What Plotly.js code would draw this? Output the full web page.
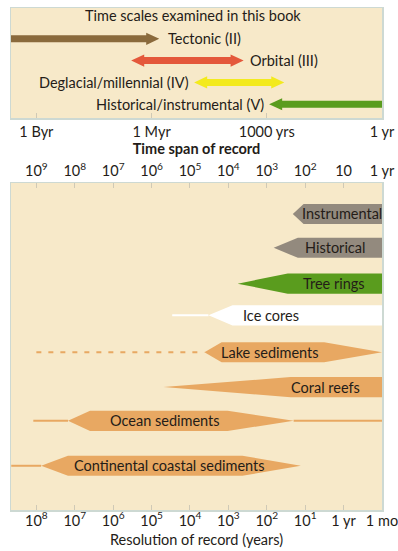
<!DOCTYPE html>
<html>
<head>
<meta charset="utf-8">
<script src="https://cdn.plot.ly/plotly-3.0.1.min.js"></script>
<style>html,body{margin:0;padding:0;background:#fff;}#chart{width:398px;height:551px;}</style>
</head>
<body>
<div id="chart"></div>
<script>
// ---------- DATA ----------
// Top panel: time scales examined in this book (time span, years)
const scaleNames = ["Tectonic (II)", "Orbital (III)", "Deglacial/millennial (IV)", "Historical/instrumental (V)"];
const scaleOld   = [5e9, 3.4e6, 7.8e4, 870];   // oldest end of arrow
const scaleYoung = [6.3e5, 4e3, 350, 1];      // youngest end of arrow
const headAtOld   = [false, true, true, true];
const headAtYoung = [true, true, true, false];

// Top-panel axis ticks
const spanTickVals = [1e9, 1e6, 1e3, 1];
const spanTickText = ["1 Byr", "1 Myr", "1000 yrs", "1 yr"];

// Bottom panel: archives (time span, years)
const records    = ["Instrumental", "Historical", "Tree rings", "Ice cores", "Lake sediments", "Coral reefs", "Ocean sediments", "Continental coastal sediments"];
const tailOld    = [null, null, null, 2.9e5, 1e9, null, 1.2e9, 4.5e9];
const tipOld     = [210, 660, 5750, 3.3e4, 4.2e4, 4.9e5, 1.5e8, 7.5e8];
const fullOld    = [110, 155, 285, 7800, 1.5e4, 240, 4e7, 1.5e8];
const fullYoung  = [1, 1, 1, 1, 32, 1, 1.05e4, 4300];
const tipYoung   = [1, 1, 1, 1, 1, 1, 200, 130];
const tailYoung  = [null, null, null, null, null, null, 1, null];

// Bottom panel tick labels
const spanDecadeVals = [1e9, 1e8, 1e7, 1e6, 1e5, 1e4, 1e3, 1e2, 10, 1];
const spanDecadeText = ["10<sup>9</sup>", "10<sup>8</sup>", "10<sup>7</sup>", "10<sup>6</sup>", "10<sup>5</sup>", "10<sup>4</sup>", "10<sup>3</sup>", "10<sup>2</sup>", "10", "1 yr"];
const resVals = [1e8, 1e7, 1e6, 1e5, 1e4, 1e3, 1e2, 10, 1, 0.1];
const resText = ["10<sup>8</sup>", "10<sup>7</sup>", "10<sup>6</sup>", "10<sup>5</sup>", "10<sup>4</sup>", "10<sup>3</sup>", "10<sup>2</sup>", "10<sup>1</sup>", "1 yr", "1 mo"];

// ---------- STYLE / PLACEMENT ----------
const FONT = "Lato, 'Open Sans', sans-serif";
const FS = 14.5;
const TXT = "#241c18";
const BG = "#f7e9c9";
const BORDER = "#cdd9d3";
const TICKC = "#cfc9b6";
const scaleColors = ["#8a6a3c", "#e4583b", "#f3ea1e", "#5a9c1e"];
const scaleRows = [1, 2, 3, 4];
const recColors = ["#938a7e", "#938a7e", "#5a9c1e", "#ffffff", "#e8a862", "#e8a862", "#e8a862", "#e8a862"];
const rowY = [0, 0.97, 2.0, 2.91, 3.97, 4.97, 5.94, 7.23];
const labelAt = [11, 17, 18, 800, 830, 29, 4.4e5, 3.4e5];
const dashedTail = [false, false, false, false, true, false, false, false];

const traces = [];
const annotations = [];

// top arrows
const HL = 0.34, SH = 0.16, HH = 0.28;
function p(L) { return Math.pow(10, L); }
scaleNames.forEach((name, i) => {
  const Lo = Math.log10(scaleOld[i]), Ly = Math.log10(scaleYoung[i]), r = scaleRows[i];
  const xs = [], ys = [];
  function pt(L, dy) { xs.push(p(L)); ys.push(r + dy); }
  if (headAtOld[i]) { pt(Lo, 0); pt(Lo - HL, -HH); pt(Lo - HL, -SH); } else { pt(Lo, -SH); }
  if (headAtYoung[i]) { pt(Ly + HL, -SH); pt(Ly + HL, -HH); pt(Ly, 0); pt(Ly + HL, HH); pt(Ly + HL, SH); }
  else { pt(Ly, -SH); pt(Ly, SH); }
  if (headAtOld[i]) { pt(Lo - HL, SH); pt(Lo - HL, HH); pt(Lo, 0); } else { pt(Lo, SH); pt(Lo, -SH); }
  traces.push({x: xs, y: ys, xaxis: 'x', yaxis: 'y', type: 'scatter', mode: 'lines', fill: 'toself',
    fillcolor: scaleColors[i], line: {width: 0}, hoverinfo: 'skip', showlegend: false});
  if (i === 0 || i === 1) {
    annotations.push({x: Math.log10(scaleYoung[i]), y: r, xref: 'x', yref: 'y', text: name, showarrow: false,
      xanchor: 'left', xshift: i === 0 ? 7 : 4, font: {family: FONT, size: FS, color: TXT}});
  } else {
    annotations.push({x: Math.log10(scaleOld[i]), y: r, xref: 'x', yref: 'y', text: name, showarrow: false,
      xanchor: 'right', xshift: -3, font: {family: FONT, size: FS, color: TXT}});
  }
});
annotations.push({x: 0.49, xref: 'x domain', y: -0.05, yref: 'y', text: 'Time scales examined in this book',
  showarrow: false, font: {family: FONT, size: FS, color: TXT}});

// bottom shapes
const H = 0.29;
records.forEach((name, i) => {
  const y0 = rowY[i], c = recColors[i];
  if (tailOld[i] !== null) {
    traces.push({x: [tailOld[i], tipOld[i]], y: [y0, y0], xaxis: 'x2', yaxis: 'y2', type: 'scatter', mode: 'lines',
      line: {color: c, width: 2, dash: dashedTail[i] ? '5px,7px' : 'solid'}, hoverinfo: 'skip', showlegend: false});
  }
  if (tailYoung[i] !== null) {
    traces.push({x: [tipYoung[i], tailYoung[i]], y: [y0, y0], xaxis: 'x2', yaxis: 'y2', type: 'scatter', mode: 'lines',
      line: {color: c, width: 2}, hoverinfo: 'skip', showlegend: false});
  }
  const xs = [tipOld[i], fullOld[i], fullYoung[i], tipYoung[i], fullYoung[i], fullOld[i], tipOld[i]];
  const ys = [y0, y0 - H, y0 - H, y0, y0 + H, y0 + H, y0];
  if (tipYoung[i] === fullYoung[i]) { ys[3] = y0 - H; xs.splice(4, 0, tipYoung[i]); ys.splice(4, 0, y0 + H); }
  traces.push({x: xs, y: ys, xaxis: 'x2', yaxis: 'y2', type: 'scatter', mode: 'lines', fill: 'toself',
    fillcolor: c, line: {width: 0}, hoverinfo: 'skip', showlegend: false});
  annotations.push({x: Math.log10(labelAt[i]), y: y0, xref: 'x2', yref: 'y2', text: name, showarrow: false,
    font: {family: FONT, size: FS, color: TXT}});
});
// invisible anchor trace so the resolution axis (x3) is drawn
traces.push({x: [resVals[0]], y: [rowY[0]], xaxis: 'x3', yaxis: 'y2', type: 'scatter', mode: 'markers',
  marker: {opacity: 0}, hoverinfo: 'skip', showlegend: false});

const xr = [9.66, 0];
const common = {type: 'log', range: xr, showgrid: false, zeroline: false, showline: true, mirror: true,
  linecolor: BORDER, linewidth: 1.5, ticks: 'inside', ticklen: 5, tickcolor: TICKC, ticklabeloverflow: 'allow',
  tickfont: {family: FONT, size: FS, color: TXT}, domain: [11/398, 382/398], fixedrange: true};

const layout = {
  width: 398, height: 551,
  margin: {l: 0, r: 0, t: 0, b: 0, autoexpand: false},
  paper_bgcolor: '#ffffff', plot_bgcolor: BG,
  font: {family: FONT, color: TXT},
  showlegend: false,
  xaxis: Object.assign({}, common, {anchor: 'y', side: 'bottom', tickmode: 'array', tickvals: spanTickVals, ticktext: spanTickText,
    title: {text: '<b>Time span of record</b>', font: {family: FONT, size: FS, color: TXT}, standoff: 2}}),
  yaxis: {domain: [1 - 118/551, 1 - 8/551], range: [4.63, -0.41], showgrid: false, zeroline: false, showticklabels: false,
    ticks: '', showline: true, mirror: true, linecolor: BORDER, linewidth: 1.5, anchor: 'x', fixedrange: true},
  xaxis2: Object.assign({}, common, {anchor: 'y2', side: 'top', tickmode: 'array', tickvals: spanDecadeVals, ticktext: spanDecadeText}),
  xaxis3: Object.assign({}, common, {anchor: 'y2', side: 'bottom', overlaying: 'x2', range: [8.66, -1], showline: false, mirror: false,
    tickmode: 'array', tickvals: resVals, ticktext: resText,
    title: {text: 'Resolution of record (years)', font: {family: FONT, size: FS, color: TXT}, standoff: 7}}),
  yaxis2: {domain: [1 - 510/551, 1 - 183/551], range: [8.5, -0.89], showgrid: false, zeroline: false, showticklabels: false,
    ticks: '', showline: true, mirror: true, linecolor: BORDER, linewidth: 1.5, anchor: 'x2', fixedrange: true},
  annotations: annotations
};

Plotly.newPlot('chart', traces, layout, {displayModeBar: false, staticPlot: true});
</script>
</body>
</html>
